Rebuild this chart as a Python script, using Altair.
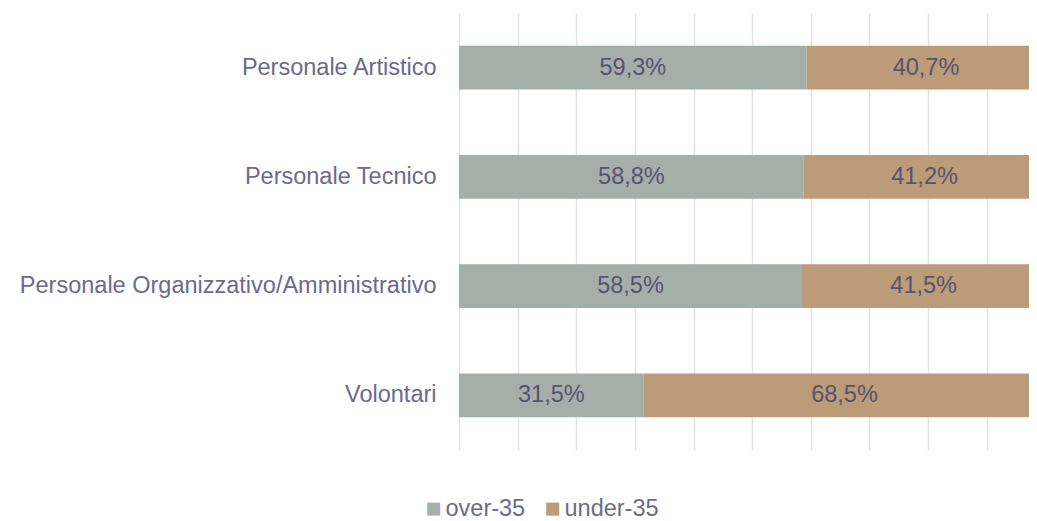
import altair as alt
import pandas as pd

categories = ["Personale Artistico", "Personale Tecnico",
              "Personale Organizzativo/Amministrativo", "Volontari"]
over_35 = [59.3, 58.8, 58.5, 31.5]
under_35 = [40.7, 41.2, 41.5, 68.5]
series = ["over-35", "under-35"]
colors = ["#A5AFA9", "#BC9B78"]
x_ticks = [0, 10, 20, 30, 40, 50, 60, 70, 80, 90, 100]

rows = []
for i, c in enumerate(categories):
    rows.append({"cat": c, "series": series[0], "order": 0, "value": over_35[i]})
    rows.append({"cat": c, "series": series[1], "order": 1, "value": under_35[i]})
df = pd.DataFrame(rows)
df["label"] = df["value"].map(lambda v: f"{v:.1f}%".replace(".", ","))

FONT = "Liberation Sans"
LABEL_COLOR = "#6D6A8C"
VALUE_COLOR = "#55546F"

plot_w = 570
full_w = 586.3
x_scale = alt.Scale(domain=[0, 100 * plot_w / full_w], nice=False, zero=True)
y_scale = alt.Scale(domain=categories, paddingInner=0.6, paddingOuter=0.3)

x_axis = alt.Axis(values=x_ticks, labels=False, ticks=False, domain=False,
                  grid=True, gridColor="#E3E2E9", gridWidth=1.5, title=None)
y_axis = alt.Axis(title=None, ticks=False, domain=False, grid=False,
                  labelFont=FONT, labelFontSize=23.5, labelColor=LABEL_COLOR,
                  labelPadding=23, labelLimit=0)

base = alt.Chart(df).transform_stack(
    stack="value", groupby=["cat"], as_=["x0", "x1"], sort=[alt.SortField("order")]
).transform_calculate(mid="(datum.x0 + datum.x1) / 2")

bars = base.mark_bar(clip=True).encode(
    x=alt.X("x0:Q", scale=x_scale, axis=x_axis),
    x2="x1:Q",
    y=alt.Y("cat:N", scale=y_scale, sort=categories, axis=y_axis),
    color=alt.Color("series:N", scale=alt.Scale(domain=series, range=colors),
                    legend=alt.Legend(title=None, orient="none", direction="horizontal",
                                      legendX=-37, legendY=484,
                                      symbolType="square", symbolSize=169,
                                      symbolStrokeWidth=0, symbolOpacity=1,
                                      labelFont=FONT, labelFontSize=23.5,
                                      labelColor=LABEL_COLOR, labelOffset=0,
                                      columnPadding=15)),
    order=alt.Order("order:Q"),
)

texts = base.mark_text(font=FONT, fontSize=23.5, color=VALUE_COLOR,
                       align="center", baseline="middle", clip=True).encode(
    x=alt.X("mid:Q", scale=x_scale, axis=x_axis),
    y=alt.Y("cat:N", scale=y_scale, sort=categories, axis=y_axis),
    text="label:N",
)

chart = (bars + texts).properties(
    width=plot_w, height=437,
    background="white",
    autosize=alt.AutoSizeParams(type="none"),
    padding={"left": 451, "top": 5, "right": 0, "bottom": 71},
).configure_view(stroke="transparent", strokeWidth=0)

chart.save("out.html", embed_options={"renderer": "svg", "actions": False})
